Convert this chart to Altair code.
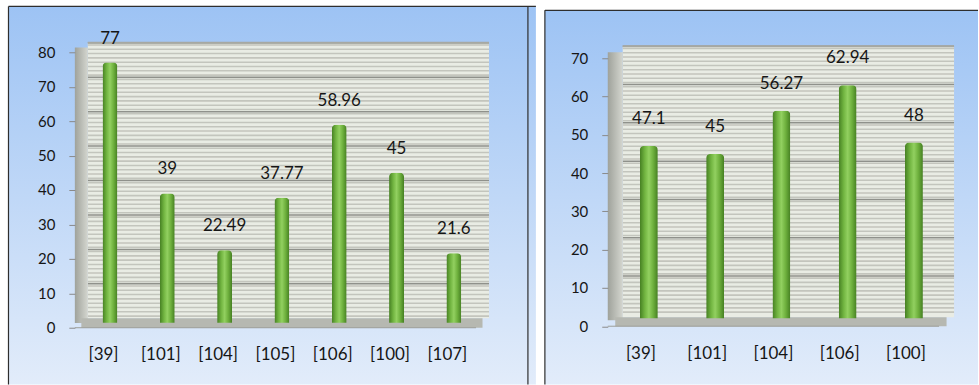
import altair as alt
import numpy as np
import pandas as pd

# ---- data -------------------------------------------------------------
left_cats = ["[39]", "[101]", "[104]", "[105]", "[106]", "[100]", "[107]"]
left_vals = [77, 39, 22.49, 37.77, 58.96, 45, 21.6]
left_ticks = [0, 10, 20, 30, 40, 50, 60, 70, 80]

right_cats = ["[39]", "[101]", "[104]", "[106]", "[100]"]
right_vals = [47.1, 45, 56.27, 62.94, 48]
right_ticks = [0, 10, 20, 30, 40, 50, 60, 70]

FONT = "Lato"
TEXT = "#161616"


def vgrad(top, bottom):
    return alt.Gradient(
        gradient="linear",
        stops=[alt.GradientStop(color=top, offset=0), alt.GradientStop(color=bottom, offset=1)],
        x1=0, x2=0, y1=0, y2=1,
    )


def hgrad(stops):
    return alt.Gradient(
        gradient="linear",
        stops=[alt.GradientStop(color=c, offset=o) for o, c in stops],
        x1=0, x2=1, y1=0, y2=0,
    )


PANEL_BG = vgrad("#9dc3f4", "#e2ecfa")
BAR_FILL = hgrad([(0, "#457f22"), (0.28, "#72b541"), (0.5, "#92d060"),
                  (0.74, "#6eb03d"), (1, "#457f22")])
SIDE_FILL = hgrad([(0, "#9fa29b"), (1, "#d4d6cf")])


def panel(cats, vals, ticks, g):
    W, H = g["W"], g["H"]
    bx, by = g["bx"], g["by"]          # bar plane shift (px)
    wx, wy = g["wx"], g["wy"]          # back wall shift (px)
    fy = g["fy"]                       # floor depth (px)
    dmax = g["dmax"]
    top = H * (1 - ticks[-1] / dmax)   # pixel row of the highest tick

    df = pd.DataFrame({"cat": cats, "value": vals,
                       "label": [f"{v:g}" for v in vals]})
    one = alt.Chart(pd.DataFrame({"k": [0]}))

    yscale = alt.Scale(domain=[0, dmax], nice=False, zero=True)
    yaxis = alt.Axis(values=ticks, title=None, domain=False, grid=False,
                     ticks=True, tickSize=6, tickColor="#8a8a8a", tickWidth=1,
                     labelPadding=14, labelFont=FONT, labelFontSize=15,
                     labelColor=TEXT, zindex=1)
    xscale = alt.Scale(domain=cats, paddingInner=0.75, paddingOuter=0.375)
    xaxis = alt.Axis(title=None, domain=False, ticks=False, grid=False,
                     labelAngle=0, labelPadding=19, labelFont=FONT,
                     labelFontSize=17, labelColor=TEXT, zindex=1)

    def V(v):
        return alt.value(v)

    # white cell that fixes this panel's slot on the page
    cell = one.mark_rect(fill="white").encode(
        x=V(g["cx0"]), x2=V(g["cx1"]), y=V(g["cy0"]), y2=V(g["cy1"]))

    # blue gradient panel background
    bg = one.mark_rect(fill=PANEL_BG).encode(
        x=V(g["bx0"]), x2=V(g["cx1"]), y=V(g["by0"]), y2=V(g["cy1"]))

    # panel frame
    frame = [
        one.mark_rule(color="#2e2e2e", strokeWidth=1.2).encode(
            x=V(g["bx0"]), x2=V(g["cx1"]), y=V(g["by0"])),
        one.mark_rule(color="#2e2e2e", strokeWidth=1.2).encode(
            x=V(g["bx0"]), y=V(g["by0"]), y2=V(g["cy1"])),
    ]
    if g.get("right_border") is not None:
        frame.append(one.mark_rule(color="#2e2e2e", strokeWidth=1.2).encode(
            x=V(g["right_border"]), y=V(g["by0"]), y2=V(g["cy1"])))

    # back wall with its fine horizontal striping
    wall = one.mark_rect(fill="#e9ece4").encode(
        x=V(wx), x2=V(W + wx), y=V(top + wy), y2=V(H - fy))
    step = g["stripe"]
    stripes = pd.DataFrame({"s": np.arange(step / 2, ticks[-1], step)})
    stripe_rules = alt.Chart(stripes).mark_rule(
        color="#c3c5bd", strokeWidth=1.6, yOffset=wy).encode(
        x=V(wx), x2=V(W + wx), y=alt.Y("s:Q", scale=yscale, axis=yaxis))
    grid = alt.Chart(pd.DataFrame({"t": ticks[1:]})).mark_rule(
        color="#8f918b", strokeWidth=1.5, yOffset=wy).encode(
        x=V(wx), x2=V(W + wx), y=alt.Y("t:Q", scale=yscale, axis=yaxis))
    wall_edge = one.mark_rule(color="#a6a8a2", strokeWidth=2).encode(
        x=V(wx), x2=V(W + wx), y=V(top + wy))

    # side wall and floor
    side = one.mark_rect(fill=SIDE_FILL).encode(
        x=V(0), x2=V(wx), y=V(top + wy / 2), y2=V(H + wy / 2))
    floor = one.mark_rect(fill="#b6b8b1").encode(
        x=V(wx / 2), x2=V(W + wx / 2), y=V(H - fy), y2=V(H))
    floor_edge = one.mark_rule(color="#9c9e98", strokeWidth=1).encode(
        x=V(0), x2=V(W), y=V(H))

    # bars and their value labels
    bars = alt.Chart(df).mark_bar(
        size=g["bar"], fill=BAR_FILL, cornerRadius=4,
        xOffset=bx, yOffset=by).encode(
        x=alt.X("cat:N", scale=xscale, axis=xaxis, sort=cats),
        y=alt.Y("value:Q", scale=yscale, axis=yaxis))
    labels = alt.Chart(df).mark_text(
        font=FONT, fontSize=17, color=TEXT, align="center",
        baseline="alphabetic", dx=bx, dy=by - 14).encode(
        x=alt.X("cat:N", scale=xscale, axis=xaxis, sort=cats),
        y=alt.Y("value:Q", scale=yscale, axis=yaxis),
        text="label:N")

    layers = [cell, bg, *frame, wall, stripe_rules, grid, wall_edge,
              side, floor, floor_edge, bars, labels]
    return alt.layer(*layers).properties(width=W, height=H)


# both plot areas start 52px from the top of the page
left = panel(left_cats, left_vals, left_ticks, dict(
    W=402, H=276, dmax=80, bx=6.5, by=-5, wx=13, wy=-9.5, fy=9.5, bar=15,
    stripe=1.25,
    cx0=-75, cx1=462, cy0=-52, cy1=333,
    bx0=-66.5, by0=-46, right_border=454))

right = panel(right_cats, right_vals, right_ticks, dict(
    W=332, H=274.5, dmax=70 * 274.5 / 268.5, bx=8, by=-8, wx=15, wy=-12,
    fy=9, bar=18, stripe=10 / 9,
    cx0=-71, cx1=371, cy0=-52, cy1=333,
    bx0=-63, by0=-42, right_border=None))

chart = (
    alt.hconcat(left, right, spacing=0)
    .properties(padding=0, background="white")
    .configure_view(strokeWidth=0)
)

chart.save("out.html", embed_options={"renderer": "svg", "actions": False})
